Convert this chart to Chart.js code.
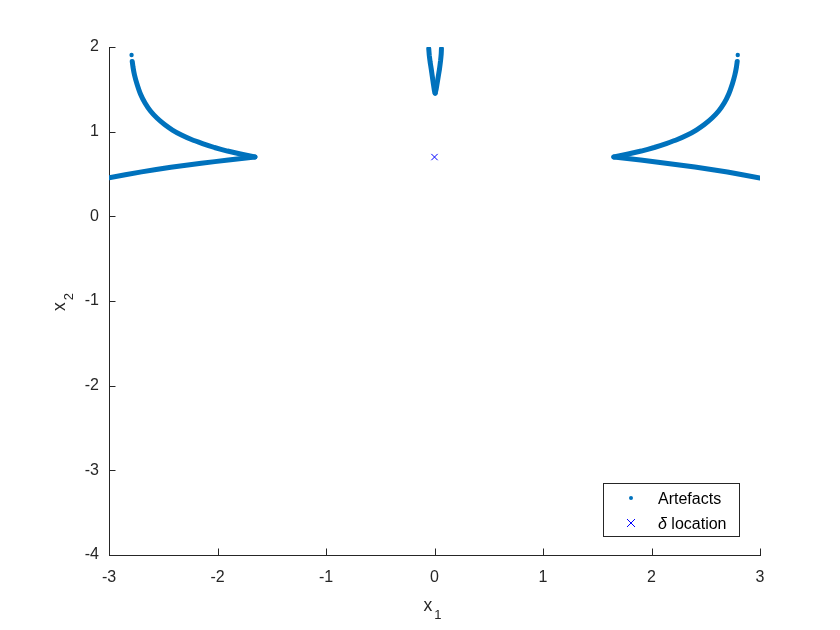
<!DOCTYPE html>
<html lang="en">
<head>
  <meta charset="UTF-8">
  <title>Artefacts</title>
  <script src="https://cdn.jsdelivr.net/npm/chart.js"></script>
  <style>
    html, body { margin: 0; padding: 0; background: #fff; }
    canvas { display: block; }
  </style>
</head>
<body>
  <canvas id="artefactChart" width="840" height="630"></canvas>

  <script>
    // artefact branches, [x1, x2] pairs
    const leftUpper = [[-2.786, 1.83], [-2.779, 1.764], [-2.765, 1.669], [-2.742, 1.563], [-2.710, 1.445],
      [-2.668, 1.338], [-2.618, 1.244], [-2.558, 1.161], [-2.488, 1.084], [-2.415, 1.019],
      [-2.332, 0.960], [-2.240, 0.907], [-2.138, 0.860], [-2.028, 0.813], [-1.908, 0.771],
      [-1.788, 0.736], [-1.655, 0.700]];
    const leftLower = [[-1.655, 0.700], [-1.9, 0.665], [-2.15, 0.627], [-2.43, 0.580], [-2.7, 0.525], [-3.0, 0.455]];
    const rightUpper = [[2.790, 1.83], [2.783, 1.764], [2.768, 1.669], [2.745, 1.563], [2.712, 1.445],
      [2.670, 1.338], [2.619, 1.244], [2.558, 1.161], [2.487, 1.084], [2.413, 1.019],
      [2.330, 0.960], [2.238, 0.907], [2.136, 0.860], [2.025, 0.813], [1.905, 0.771],
      [1.785, 0.736], [1.653, 0.700]];
    const rightLower = [[1.653, 0.700], [1.9, 0.665], [2.15, 0.625], [2.4, 0.582], [2.7, 0.523], [3.0, 0.452]];
    const centreLeft = [[-0.053, 1.98], [-0.048, 1.90], [-0.040, 1.82], [-0.030, 1.74], [-0.020, 1.65],
      [-0.010, 1.56], [0.0, 1.48], [0.006, 1.455]];
    const centreRight = [[0.006, 1.455], [0.015, 1.50], [0.028, 1.60], [0.046, 1.74], [0.056, 1.84],
      [0.062, 1.92], [0.064, 1.98]];
    const strayDots = [[-2.792, 1.905], [2.795, 1.905]];
    const deltaLocation = [[0, 0.7]];

    const xTicks = [-3, -2, -1, 0, 1, 2, 3];
    const yTicks = [-4, -3, -2, -1, 0, 1, 2];
    const legendLabels = ['Artefacts', 'location'];

    const blue = '#0072BD';
    const ink = '#262626';
    const font = '"Liberation Sans", Arial, Helvetica, sans-serif';

    const toPoints = arr => arr.map(p => ({ x: p[0], y: p[1] }));

    function branch(arr) {
      return {
        data: toPoints(arr),
        showLine: true,
        borderColor: blue,
        borderWidth: 5,
        borderCapStyle: 'round',
        borderJoinStyle: 'round',
        tension: 0.1,
        pointRadius: 0,
        fill: false
      };
    }

    // MATLAB look: inward ticks, subscript axis labels, boxed legend
    const matlabAxes = {
      id: 'matlabAxes',
      afterDraw(chart) {
        const { ctx, chartArea: a, scales: { x, y } } = chart;
        ctx.save();
        ctx.strokeStyle = ink;
        ctx.lineWidth = 1;
        ctx.beginPath();
        xTicks.forEach(v => {
          const px = Math.round(x.getPixelForValue(v)) + 0.5;
          ctx.moveTo(px, a.bottom);
          ctx.lineTo(px, a.bottom - 6.5);
        });
        yTicks.forEach(v => {
          const py = Math.round(y.getPixelForValue(v)) + 0.5;
          ctx.moveTo(a.left, py);
          ctx.lineTo(a.left + 6.5, py);
        });
        ctx.stroke();

        // axis titles
        ctx.fillStyle = ink;
        ctx.textBaseline = 'alphabetic';
        ctx.textAlign = 'left';
        ctx.font = '17.6px ' + font;
        const xw = ctx.measureText('x').width;
        const cx = (a.left + a.right) / 2 - 11;
        ctx.fillText('x', cx, 611);
        ctx.font = '13px ' + font;
        ctx.fillText('1', cx + xw + 2, 619);

        ctx.save();
        ctx.translate(65, 311);
        ctx.rotate(-Math.PI / 2);
        ctx.font = '17.6px ' + font;
        ctx.fillText('x', 0, 0);
        ctx.font = '13px ' + font;
        ctx.fillText('2', xw + 2, 8);
        ctx.restore();

        // legend box
        const bx = a.right - 157, by = a.bottom - 72, bw = 136, bh = 53;
        ctx.fillStyle = '#fff';
        ctx.fillRect(bx, by, bw, bh);
        ctx.strokeRect(bx + 0.5, by + 0.5, bw, bh);
        ctx.fillStyle = blue;
        ctx.beginPath();
        ctx.arc(bx + 28, by + 15, 2, 0, Math.PI * 2);
        ctx.fill();
        ctx.strokeStyle = '#0000FF';
        ctx.beginPath();
        ctx.moveTo(bx + 24, by + 36); ctx.lineTo(bx + 32, by + 44);
        ctx.moveTo(bx + 32, by + 36); ctx.lineTo(bx + 24, by + 44);
        ctx.stroke();
        ctx.fillStyle = '#000';
        ctx.font = '16px ' + font;
        ctx.fillText(legendLabels[0], bx + 55, by + 21);
        ctx.font = 'italic 16px ' + font;
        ctx.fillText('\u03B4', bx + 55, by + 46);
        const dw = ctx.measureText('\u03B4').width;
        ctx.font = '16px ' + font;
        ctx.fillText(' ' + legendLabels[1], bx + 55 + dw, by + 46);
        ctx.restore();
      }
    };

    new Chart(document.getElementById('artefactChart').getContext('2d'), {
      type: 'scatter',
      data: {
        datasets: [
          branch(leftUpper), branch(leftLower), branch(rightUpper), branch(rightLower),
          branch(centreLeft), branch(centreRight),
          {
            data: toPoints(strayDots),
            backgroundColor: blue,
            borderWidth: 0,
            pointRadius: 2.2
          },
          {
            data: toPoints(deltaLocation),
            pointStyle: 'crossRot',
            pointRadius: 4.5,
            borderColor: '#0000FF',
            borderWidth: 1
          }
        ]
      },
      options: {
        responsive: false,
        animation: false,
        layout: { padding: { top: 47, right: 80, bottom: 0, left: 0 } },
        plugins: { legend: { display: false }, tooltip: { enabled: false } },
        scales: {
          x: {
            type: 'linear', min: -3, max: 3,
            afterBuildTicks: s => { s.ticks = xTicks.map(v => ({ value: v })); },
            afterFit: s => { s.height = 75; },
            grid: { display: false, drawTicks: false },
            border: { display: true, color: ink, width: 1 },
            ticks: { color: ink, font: { family: font, size: 16 }, padding: 13, maxRotation: 0 }
          },
          y: {
            type: 'linear', min: -4, max: 2,
            afterBuildTicks: s => { s.ticks = yTicks.map(v => ({ value: v })); },
            afterFit: s => { s.width = 109; },
            grid: { display: false, drawTicks: false },
            border: { display: true, color: ink, width: 1 },
            ticks: { color: ink, font: { family: font, size: 16 }, padding: 10 }
          }
        }
      },
      plugins: [matlabAxes]
    });
  </script>
</body>
</html>
